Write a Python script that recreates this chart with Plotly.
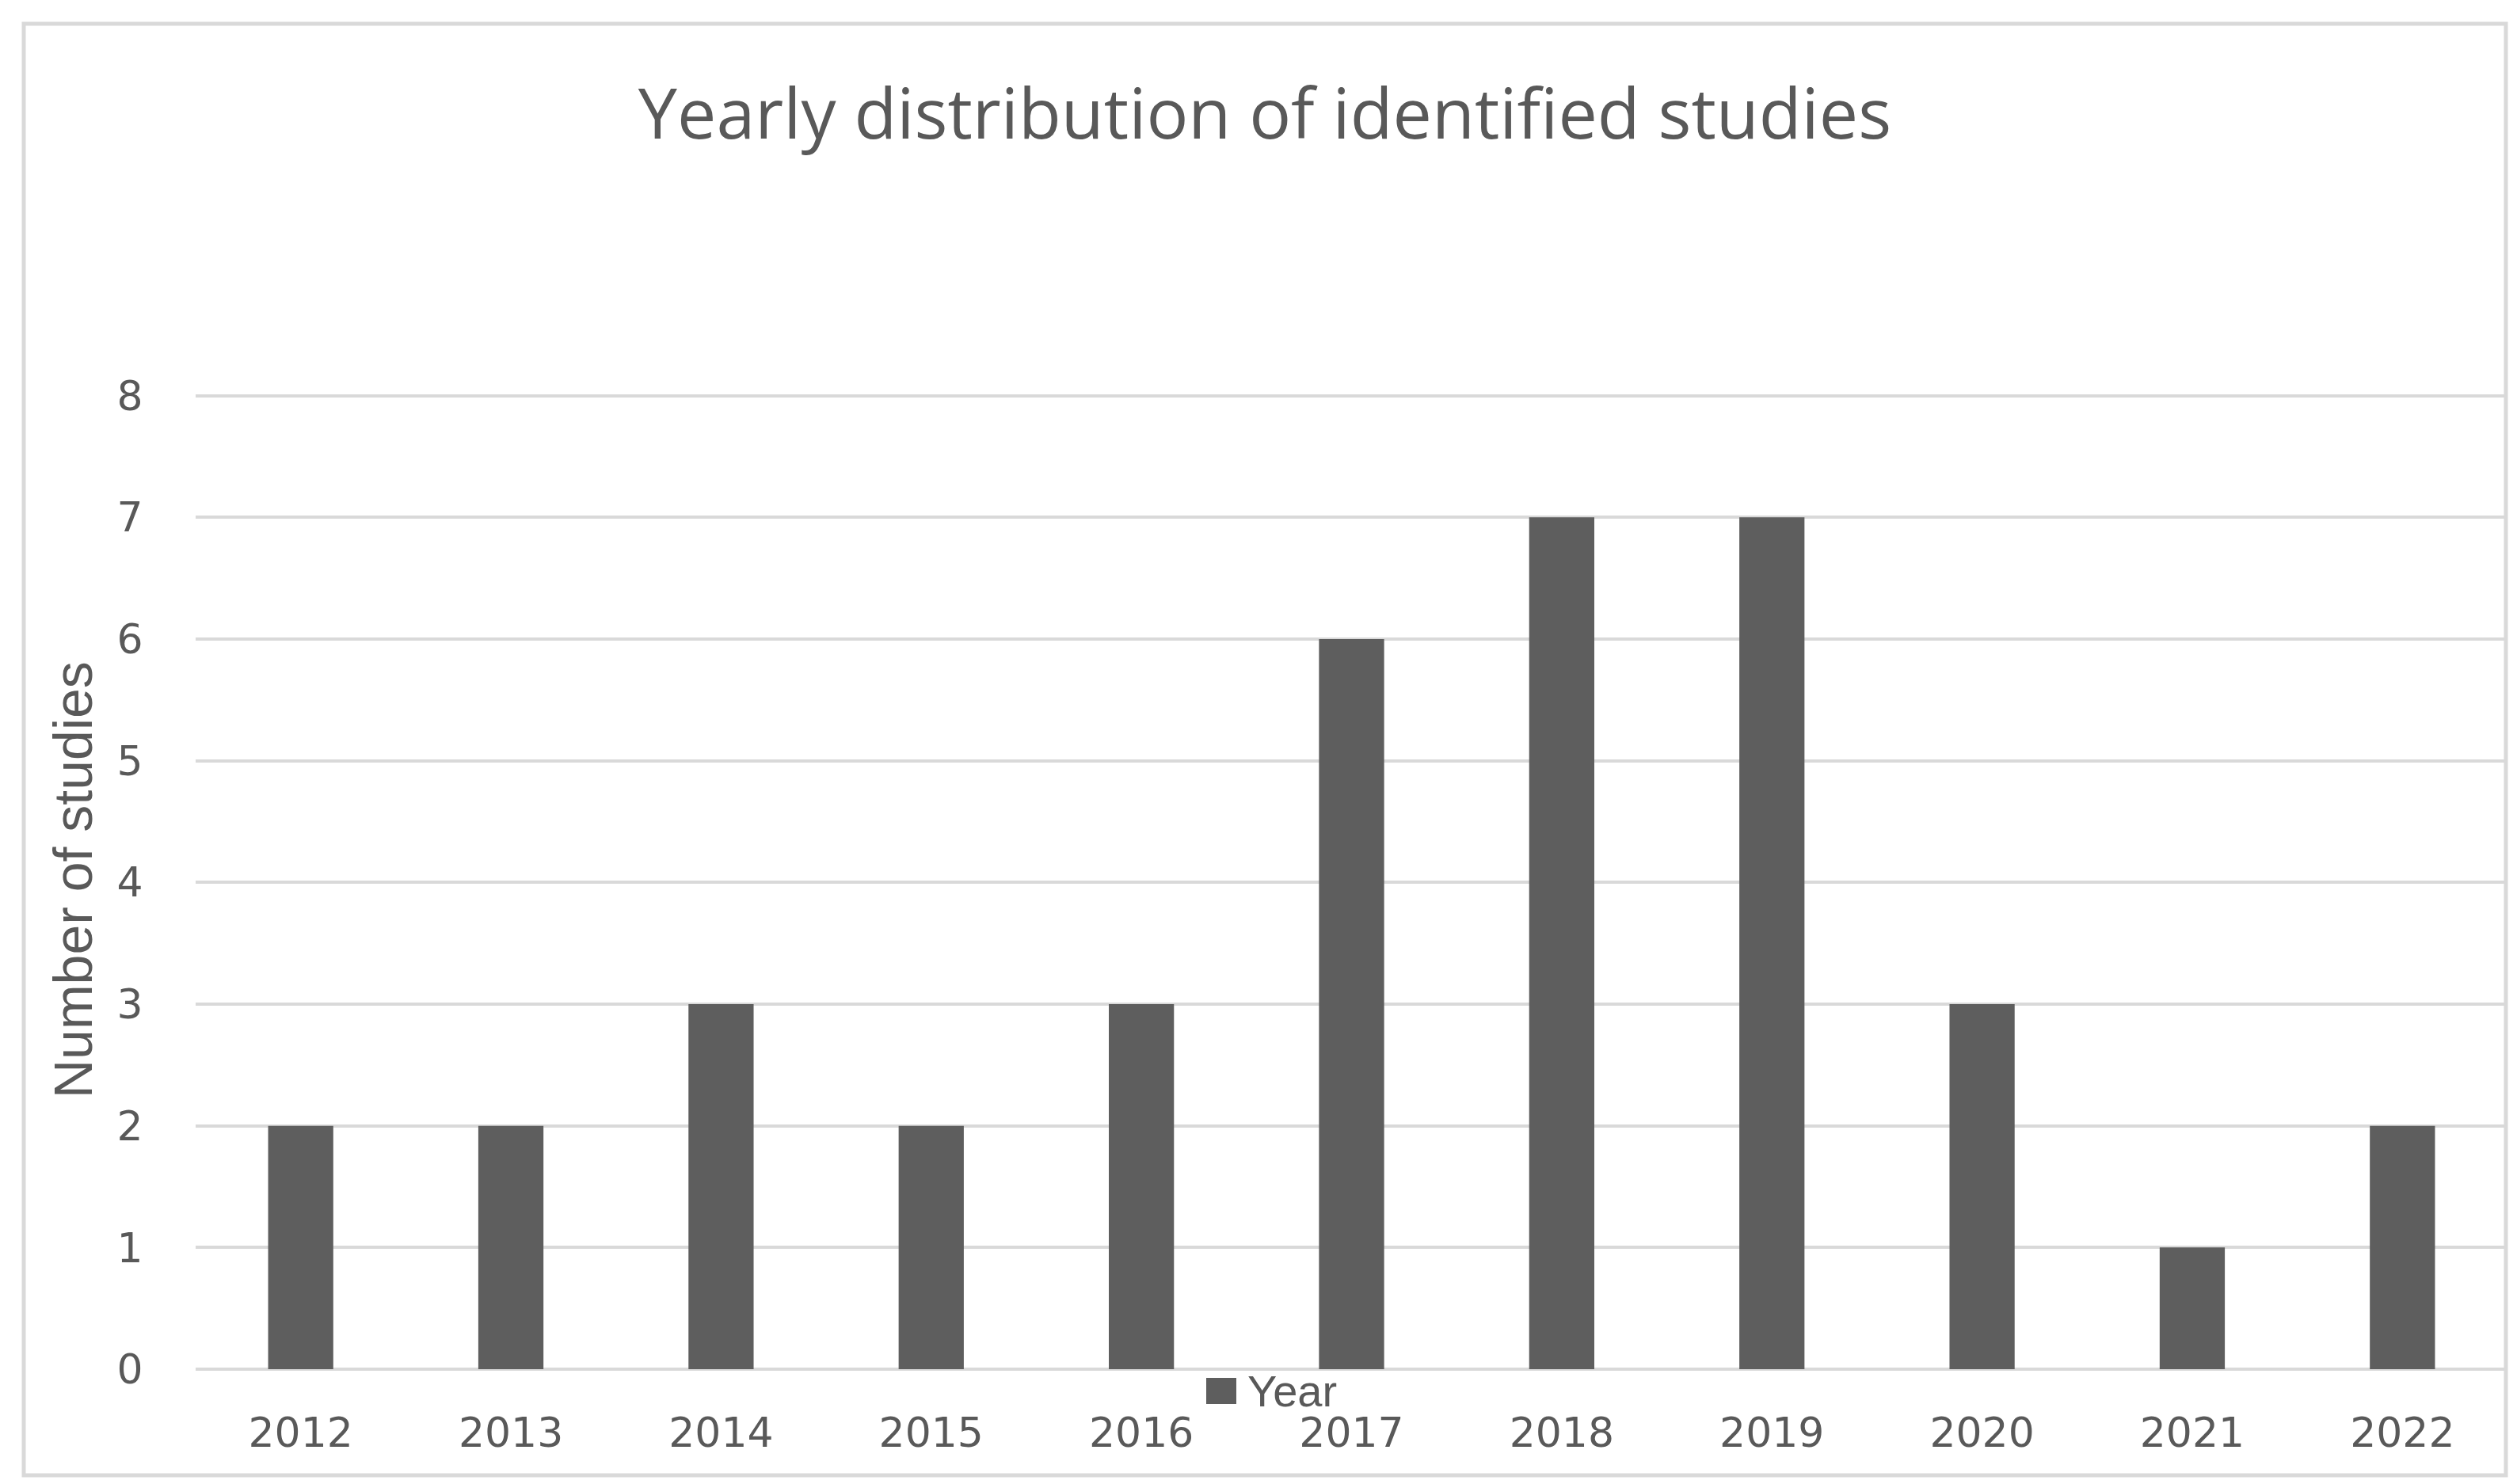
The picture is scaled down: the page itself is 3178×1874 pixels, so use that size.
import plotly.graph_objects as go

years = ["2012", "2013", "2014", "2015", "2016", "2017", "2018", "2019", "2020", "2021", "2022"]
studies = [2, 2, 3, 2, 3, 6, 7, 7, 3, 1, 2]
y_ticks = [0, 1, 2, 3, 4, 5, 6, 7, 8]
series_name = "Year"
chart_title = "Yearly distribution of identified studies"
y_title = "Number of studies"

W, H = 3178, 1874
L, R, T, B = 239, 20, 490, 153
pw = W - L - R
ph = H - T - B
Y0 = H - B  # pixel row of value 0

TEXT = "#595959"
GRID = "#d9d9d9"
BAR = "#5e5e5e"

fig = go.Figure()
fig.add_trace(go.Bar(x=years, y=studies, name=series_name,
                     marker=dict(color=BAR, line=dict(width=0)), showlegend=False))

# legend key (square + label), drawn to match the large key of the original
legend_shapes = [dict(type="rect", xref="paper", yref="paper",
                      x0=(1515 - L) / pw, x1=(1553 - L) / pw,
                      y0=(Y0 - 1765) / ph, y1=(Y0 - 1732) / ph,
                      line=dict(width=0), fillcolor=BAR)]

fig.update_layout(
    width=W, height=H,
    margin=dict(l=L, r=R, t=T, b=B, autoexpand=False),
    paper_bgcolor="white", plot_bgcolor="white",
    bargap=0.69,
    showlegend=False,
    title=dict(text=chart_title, x=0.5, xref="container", xanchor="center",
               y=1 - 136 / H, yref="container", yanchor="middle",
               font=dict(family="Open Sans", size=88, color=TEXT)),
    font=dict(family="DejaVu Sans", color=TEXT),
    xaxis=dict(type="category", showgrid=False, showline=False, zeroline=False,
               ticks="outside", ticklen=35, tickcolor="rgba(0,0,0,0)",
               tickfont=dict(family="DejaVu Sans", size=52, color=TEXT)),
    yaxis=dict(range=[0, 8.01], tickvals=y_ticks, showgrid=True, gridcolor=GRID, gridwidth=4,
               zeroline=True, zerolinecolor=GRID, zerolinewidth=4, showline=False,
               ticks="outside", ticklen=55, tickcolor="rgba(0,0,0,0)",
               tickfont=dict(family="DejaVu Sans", size=52, color=TEXT)),
    annotations=[
        dict(text=y_title, textangle=-90, xref="paper", yref="paper",
             x=(84 - L) / pw, y=(Y0 - 1103) / ph, xanchor="center", yanchor="middle",
             showarrow=False,
             font=dict(family="Liberation Sans", size=68, color=TEXT)),
        dict(text=series_name, xref="paper", yref="paper",
             x=(1565 - L) / pw, y=(Y0 - 1748) / ph, xanchor="left", yanchor="middle",
             showarrow=False,
             font=dict(family="Liberation Sans", size=56, color=TEXT)),
    ],
    shapes=[dict(type="rect", xref="paper", yref="paper",
                 x0=(22 - L) / pw, x1=(3156 - L) / pw,
                 y0=(Y0 - 1855) / ph, y1=(Y0 - 22) / ph,
                 line=dict(color=GRID, width=5), fillcolor="rgba(0,0,0,0)", layer="below")]
           + legend_shapes,
)

fig.write_html("out.html")
